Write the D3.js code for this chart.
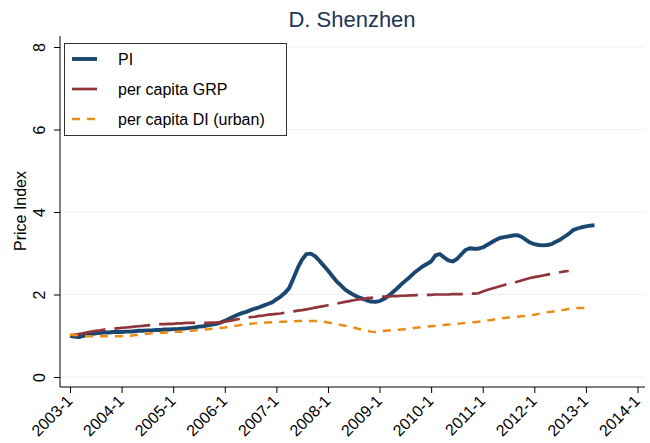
<!DOCTYPE html>
<html>
<head>
<meta charset="utf-8">
<script src="https://cdn.jsdelivr.net/npm/d3@7/dist/d3.min.js"></script>
<style>
  body { margin: 0; background: #fff; }
  text { font-family: "Liberation Sans", Arial, sans-serif; }
</style>
</head>
<body>
<svg class="chart"></svg>
<script>
// Etiquetas del eje x (un tick por año, enero)
var xTickLabels = ["2003-1","2004-1","2005-1","2006-1","2007-1","2008-1",
                   "2009-1","2010-1","2011-1","2012-1","2013-1","2014-1"];
var yTicks = [0, 2, 4, 6, 8];
var seriesNames = ["PI", "per capita GRP", "per capita DI (urban)"];

// Series mensuales desde 2003-1
var piValues = [
  1.00,0.98,0.97,0.99,1.02,1.04,1.06,1.07,1.08,1.08,1.09,1.09,
  1.09,1.10,1.10,1.11,1.12,1.12,1.13,1.13,1.14,1.14,1.15,1.15,
  1.16,1.16,1.17,1.18,1.19,1.20,1.22,1.23,1.25,1.27,1.29,1.32,
  1.36,1.41,1.46,1.51,1.55,1.58,1.62,1.66,1.69,1.73,1.77,1.81,
  1.88,1.95,2.04,2.16,2.40,2.65,2.85,2.98,2.99,2.93,2.82,2.70,
  2.58,2.45,2.32,2.22,2.12,2.05,1.99,1.94,1.90,1.86,1.83,1.82,
  1.84,1.89,1.96,2.05,2.14,2.24,2.33,2.42,2.52,2.60,2.68,2.74,
  2.80,2.95,2.98,2.90,2.83,2.80,2.86,2.97,3.08,3.12,3.11,3.11,
  3.14,3.20,3.26,3.32,3.37,3.39,3.41,3.43,3.44,3.40,3.33,3.26,
  3.22,3.20,3.19,3.20,3.22,3.28,3.33,3.40,3.47,3.56,3.60,3.63,
  3.65,3.67,3.68
];
var grpValues = [
  1.00,1.02,1.04,1.06,1.08,1.10,1.12,1.13,1.15,1.16,1.17,1.18,
  1.19,1.20,1.21,1.22,1.23,1.24,1.25,1.26,1.27,1.28,1.28,1.29,
  1.29,1.30,1.30,1.31,1.31,1.31,1.31,1.31,1.31,1.32,1.32,1.33,
  1.34,1.36,1.38,1.40,1.42,1.44,1.45,1.46,1.48,1.49,1.51,1.52,
  1.53,1.54,1.56,1.57,1.59,1.61,1.62,1.64,1.66,1.68,1.70,1.72,
  1.74,1.76,1.78,1.80,1.82,1.84,1.86,1.88,1.89,1.91,1.92,1.93,
  1.94,1.95,1.95,1.96,1.96,1.97,1.97,1.98,1.98,1.99,1.99,1.99,
  1.99,2.00,2.00,2.00,2.00,2.01,2.01,2.01,2.01,2.02,2.02,2.03,
  2.07,2.11,2.14,2.17,2.20,2.23,2.26,2.29,2.31,2.34,2.37,2.40,
  2.42,2.44,2.46,2.48,2.50,2.52,2.54,2.56,2.57
];
var diValues = [
  1.03,1.02,1.01,1.00,0.99,0.99,0.99,0.99,0.99,0.99,0.99,0.99,
  0.99,1.00,1.00,1.01,1.02,1.04,1.05,1.06,1.07,1.07,1.07,1.08,
  1.09,1.10,1.10,1.11,1.12,1.13,1.14,1.15,1.16,1.17,1.18,1.19,
  1.20,1.22,1.24,1.25,1.27,1.28,1.29,1.30,1.31,1.32,1.32,1.33,
  1.33,1.34,1.34,1.35,1.35,1.36,1.36,1.36,1.36,1.36,1.35,1.34,
  1.32,1.30,1.28,1.26,1.24,1.22,1.20,1.17,1.15,1.12,1.10,1.09,
  1.10,1.12,1.13,1.14,1.14,1.15,1.16,1.17,1.19,1.20,1.21,1.22,
  1.23,1.24,1.25,1.26,1.27,1.28,1.29,1.30,1.31,1.32,1.33,1.34,
  1.35,1.37,1.38,1.40,1.42,1.43,1.44,1.45,1.46,1.47,1.48,1.50,
  1.51,1.53,1.55,1.57,1.58,1.60,1.62,1.63,1.65,1.66,1.67,1.67,
  1.67,1.68
];

var width = 650, height = 443;
var plot = {left: 60, right: 645, top: 36, bottom: 387};

var colors = ["#1a476f", "#90353b", "#ec8a16"];
var widths = [3.9, 2.7, 2.5];
var dashes = [null, "36,9", "8,7"];

var svg = d3.select(".chart")
    .attr("width", width)
    .attr("height", height);

var x = d3.scaleLinear()
    .domain([0, (xTickLabels.length - 1) * 12])
    .range([70, 637.5]);

var y = d3.scaleLinear()
    .domain([0, 8])
    .range([377, 47]);

// Lineas de grilla
svg.append("g").selectAll("line")
    .data(yTicks)
  .enter().append("line")
    .attr("x1", plot.left).attr("x2", plot.right)
    .attr("y1", function(d) { return y(d); })
    .attr("y2", function(d) { return y(d); })
    .attr("stroke", "#eaf2f3")
    .attr("stroke-width", 1.2);

// Series
var line = d3.line()
    .x(function(d, i) { return x(i); })
    .y(function(d) { return y(d); });

[piValues, grpValues, diValues].forEach(function(vals, k) {
  svg.append("path")
      .datum(vals)
      .attr("fill", "none")
      .attr("stroke", colors[k])
      .attr("stroke-width", widths[k])
      .attr("stroke-dasharray", dashes[k])
      .attr("stroke-linejoin", "round")
      .attr("d", line);
});

// Eje y
var yAxis = d3.axisLeft(y).tickValues(yTicks).tickSize(6);
var gy = svg.append("g")
    .attr("transform", "translate(" + plot.left + ",0)")
    .call(yAxis);
gy.select(".domain").remove();
gy.selectAll("line").attr("stroke", "#000");
gy.selectAll("text")
    .attr("x", 0).attr("dy", 0)
    .attr("transform", "translate(-15,0) rotate(-90)")
    .style("text-anchor", "middle")
    .style("font-size", "16px")
    .attr("fill", "#000");

svg.append("text")
    .attr("transform", "translate(25.5,211) rotate(-90)")
    .style("text-anchor", "middle")
    .style("font-size", "16px")
    .text("Price Index");

// Eje x
var xAxis = d3.axisBottom(x)
    .tickValues(d3.range(0, xTickLabels.length * 12, 12))
    .tickFormat(function(d, i) { return xTickLabels[i]; })
    .tickSize(6);
var gx = svg.append("g")
    .attr("transform", "translate(0," + plot.bottom + ")")
    .call(xAxis);
gx.select(".domain").remove();
gx.selectAll("line").attr("stroke", "#000");
gx.selectAll("text")
    .attr("x", 0).attr("y", 0).attr("dy", 0)
    .attr("transform", "translate(3,15) rotate(-45)")
    .style("text-anchor", "end")
    .style("font-size", "16px")
    .attr("fill", "#000");

// Lineas de los ejes
svg.append("line")
    .attr("x1", plot.left).attr("x2", plot.left)
    .attr("y1", plot.top).attr("y2", plot.bottom)
    .attr("stroke", "#000");
svg.append("line")
    .attr("x1", plot.left).attr("x2", plot.right)
    .attr("y1", plot.bottom).attr("y2", plot.bottom)
    .attr("stroke", "#000");

// Titulo
svg.append("text")
    .attr("x", 352).attr("y", 27)
    .style("text-anchor", "middle")
    .style("font-size", "22px")
    .attr("fill", "#1c3557")
    .text("D. Shenzhen");

// Leyenda
var legend = svg.append("g");
legend.append("rect")
    .attr("x", 64.5).attr("y", 43.5)
    .attr("width", 222).attr("height", 92)
    .attr("fill", "#fff")
    .attr("stroke", "#333");

var item = legend.selectAll("g.item")
    .data(seriesNames)
  .enter().append("g")
    .attr("class", "item")
    .attr("transform", function(d, i) { return "translate(0," + (59 + i * 30) + ")"; });

item.append("line")
    .attr("x1", 72).attr("x2", 97)
    .attr("stroke", function(d, i) { return colors[i]; })
    .attr("stroke-width", function(d, i) { return widths[i]; })
    .attr("stroke-dasharray", function(d, i) { return dashes[i]; });

item.append("text")
    .attr("x", 118).attr("y", 6)
    .style("font-size", "16px")
    .attr("fill", "#000")
    .text(function(d) { return d; });
</script>
</body>
</html>
